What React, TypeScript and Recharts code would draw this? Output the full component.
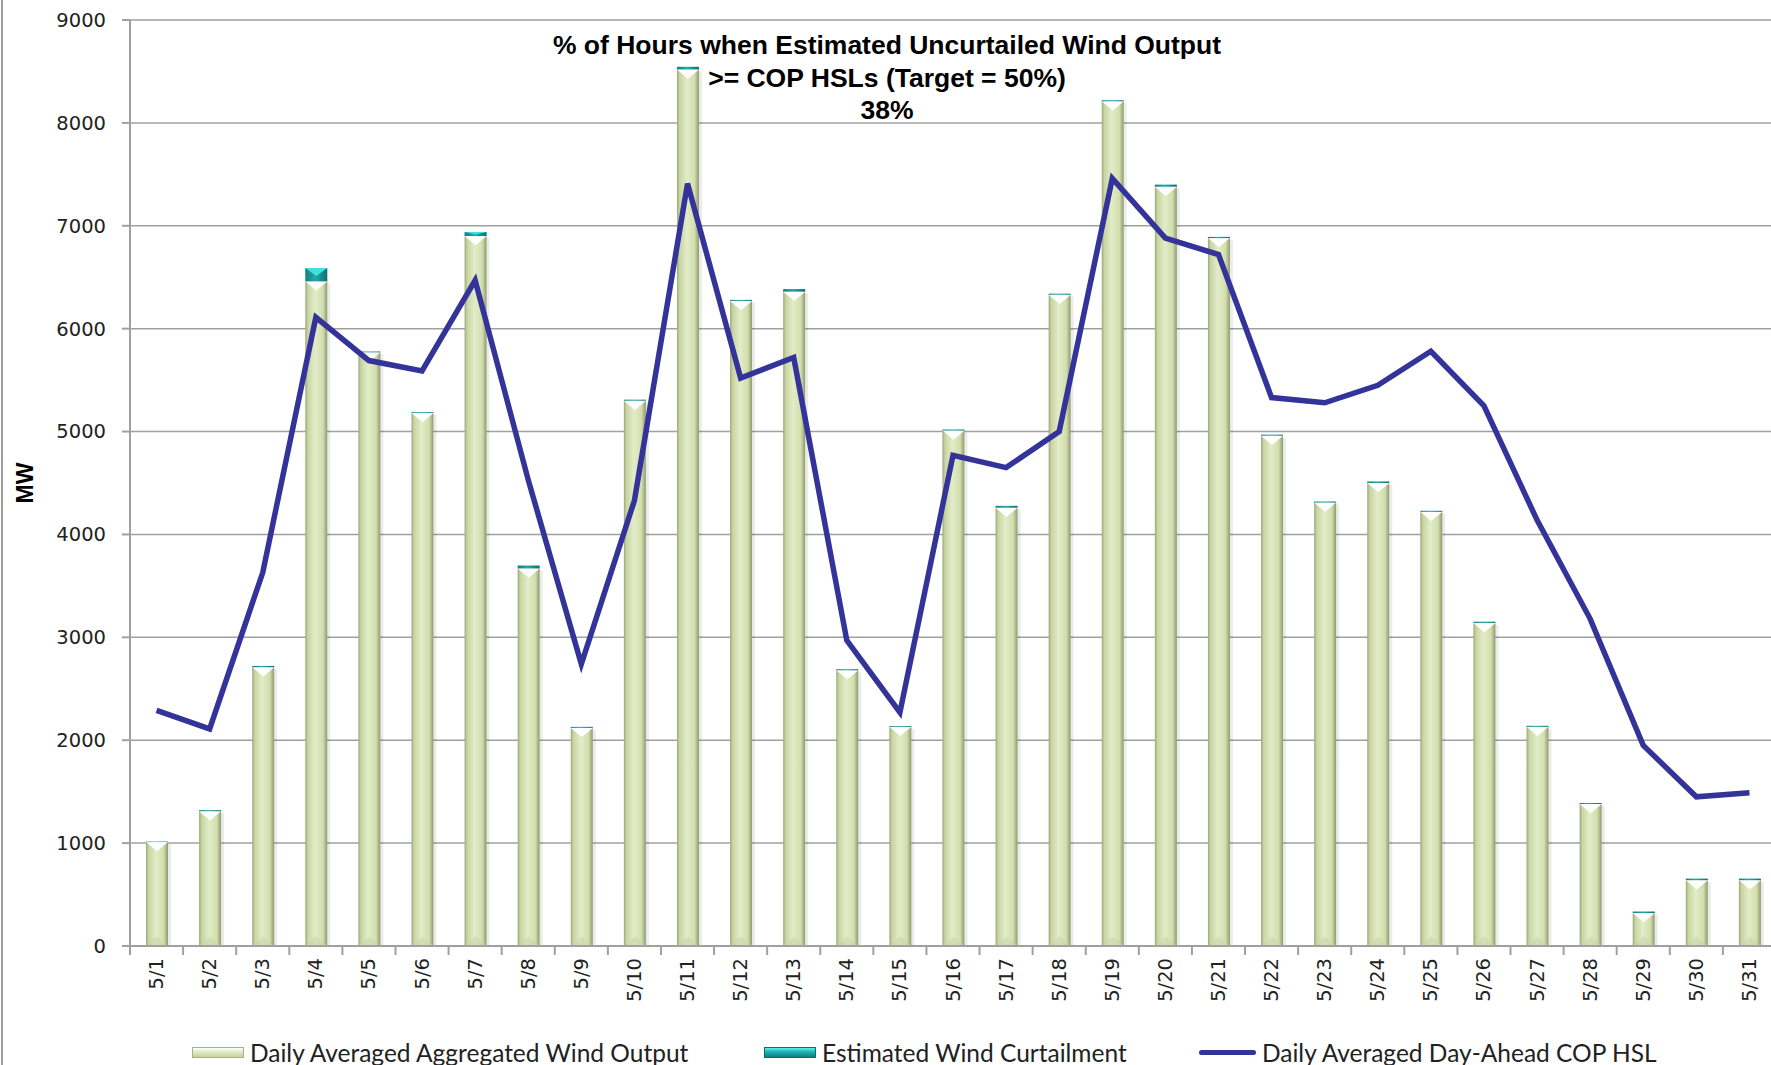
import React from 'react';
import {
  ComposedChart, Bar, Line, XAxis, YAxis, CartesianGrid,
} from 'recharts';

const categories = ['5/1','5/2','5/3','5/4','5/5','5/6','5/7','5/8','5/9','5/10','5/11','5/12','5/13','5/14','5/15','5/16','5/17','5/18','5/19','5/20','5/21','5/22','5/23','5/24','5/25','5/26','5/27','5/28','5/29','5/30','5/31'];
const windOutput = [1010,1310,2710,6460,5770,5180,6900,3670,2120,5300,8520,6270,6360,2680,2130,5010,4260,6330,8210,7380,6880,4960,4310,4500,4220,3140,2130,1380,320,640,640];
const curtailment = [5,10,12,130,8,8,40,28,10,10,25,10,25,10,8,10,18,10,10,20,12,10,10,15,10,12,10,10,15,15,15];
const copHsl = [2290,2110,3630,6110,5690,5590,6470,4530,2740,4330,7410,5520,5720,2970,2270,4770,4650,5000,7460,6880,6720,5330,5280,5450,5780,5250,4140,3180,1950,1450,1490];
const yTicks = [0,1000,2000,3000,4000,5000,6000,7000,8000,9000];

const titleLines = ['% of Hours when Estimated Uncurtailed Wind Output', '>= COP HSLs (Target = 50%)', '38%'];
const legendLabels = ['Daily Averaged Aggregated Wind Output', 'Estimated Wind Curtailment', 'Daily Averaged Day-Ahead COP HSL'];

const data = categories.map((c, i) => ({
  day: c,
  wind: windOutput[i],
  curt: curtailment[i],
  cop: copHsl[i],
}));

const CHART_W = 1790;
const CHART_H = 1065;
const MARGIN = { top: 20, right: 14, bottom: 0, left: 0 };
const Y_W = 130;
const X_H = 119;
const PLOT_W = CHART_W - MARGIN.right - MARGIN.left - Y_W;
const BAND = PLOT_W / categories.length;

const WindShape = (props: any) => {
  const { x, y, width, height } = props;
  if (!height || height <= 0) return null;
  const tri = Math.min(height, width * 0.42);
  return (
    <g>
      <rect x={x + width} y={y + 2} width={3} height={height - 2} fill="#000" opacity={0.08} />
      <rect x={x} y={y} width={width} height={height} fill="url(#gWind)" />
      <polygon points={`${x},${y} ${x + width},${y} ${x + width / 2},${y + tri}`} fill="#ffffff" />
      <polygon points={`${x},${y + height} ${x + width},${y + height} ${x + width / 2},${y + height - tri}`} fill="#c9d5a6" opacity={0.6} />
    </g>
  );
};

const CurtShape = (props: any) => {
  const { x, y, width, height } = props;
  if (!height || height <= 0) return null;
  const tri = Math.min(height * 0.6, width * 0.38);
  return (
    <g>
      <rect x={x} y={y} width={width} height={height} fill="url(#gTeal)" />
      {height > 4 && (
        <polygon points={`${x},${y} ${x + width},${y} ${x + width / 2},${y + tri}`} fill="#3fe0e0" />
      )}
    </g>
  );
};

const XTick = (props: any) => {
  const { x, y, payload } = props;
  const left = x - BAND / 2;
  return (
    <g>
      <line x1={left} y1={y} x2={left} y2={y + 9} stroke="#a0a0a0" strokeWidth={2} />
      <text
        x={x}
        y={y + 12}
        transform={`rotate(-90 ${x} ${y + 12})`}
        textAnchor="end"
        dominantBaseline="central"
        fontFamily="'DejaVu Sans', sans-serif"
        fontSize={19.5}
        fill="#222"
      >
        {payload.value}
      </text>
    </g>
  );
};

const LegendIcon = ({ kind }: { kind: number }) => {
  if (kind === 2) {
    return <div style={{ width: 57, height: 5, background: '#333399', borderRadius: 3 }} />;
  }
  const bg = kind === 0
    ? 'linear-gradient(to bottom, #ffffff 0%, #e4edc9 35%, #c6d3a0 100%)'
    : 'linear-gradient(to bottom, #5ff0f0 0%, #1fb5b5 40%, #0e7f7f 100%)';
  return <div style={{ width: 52, height: 11, background: bg, border: kind === 0 ? '1px solid #a6b382' : '1px solid #0b6f6f', boxSizing: 'border-box' }} />;
};

const legendPos = [192, 764, 1199];

export default function App() {
  return (
    <div style={{ position: 'fixed', left: 0, top: 0, width: 1771, height: 1065, overflow: 'hidden', background: '#fff' }}>
      <div style={{ position: 'absolute', left: 1, top: 0, width: 2, height: 1065, background: '#a0a0a0' }} />
      <ComposedChart width={CHART_W} height={CHART_H} data={data} margin={MARGIN} barSize={22}>
        <defs>
          <linearGradient id="gWind" x1="0" y1="0" x2="1" y2="0">
            <stop offset="0%" stopColor="#9ca877" />
            <stop offset="12%" stopColor="#c8d5a3" />
            <stop offset="45%" stopColor="#e3ecc8" />
            <stop offset="80%" stopColor="#d2deae" />
            <stop offset="100%" stopColor="#8e9a6c" />
          </linearGradient>
          <linearGradient id="gTeal" x1="0" y1="0" x2="1" y2="0">
            <stop offset="0%" stopColor="#0f7f7f" />
            <stop offset="45%" stopColor="#23a9a9" />
            <stop offset="100%" stopColor="#0c7070" />
          </linearGradient>
        </defs>
        <CartesianGrid vertical={false} stroke="#a0a0a0" strokeWidth={1.5} />
        <XAxis
          dataKey="day"
          height={X_H}
          interval={0}
          tickSize={0}
          tickMargin={0}
          tick={<XTick />}
          axisLine={{ stroke: '#a0a0a0', strokeWidth: 2 }}
          tickLine={false}
        />
        <YAxis
          width={Y_W}
          domain={[0, 9000]}
          ticks={yTicks}
          interval={0}
          tickSize={8}
          tickMargin={16}
          axisLine={{ stroke: '#a0a0a0', strokeWidth: 2 }}
          tickLine={{ stroke: '#a0a0a0', strokeWidth: 2 }}
          tick={{ fontFamily: "'DejaVu Sans', sans-serif", fontSize: 19.5, fill: '#222' }}
        />
        <Bar dataKey="wind" stackId="a" shape={<WindShape />} isAnimationActive={false} />
        <Bar dataKey="curt" stackId="a" shape={<CurtShape />} isAnimationActive={false} />
        <Line dataKey="cop" type="linear" stroke="#333399" strokeWidth={5.5} dot={false} isAnimationActive={false} />
      </ComposedChart>

      <div style={{ position: 'absolute', left: 887 - 500, top: 29, width: 1000, textAlign: 'center', fontFamily: "'Liberation Sans', Arial, sans-serif", fontWeight: 'bold', fontSize: 26.5, lineHeight: '32.5px', color: '#000' }}>
        {titleLines.map((t) => <div key={t}>{t}</div>)}
      </div>

      <div style={{ position: 'absolute', left: 25 - 40, top: 483 - 15, width: 80, height: 30, lineHeight: '30px', textAlign: 'center', transform: 'rotate(-90deg)', fontFamily: "'Liberation Sans', Arial, sans-serif", fontWeight: 'bold', fontSize: 23, color: '#000' }}>
        MW
      </div>

      {legendLabels.map((lab, i) => (
        <div key={lab} style={{ position: 'absolute', left: legendPos[i], top: 1052 - 16, height: 32, display: 'flex', alignItems: 'center', gap: 6, fontFamily: "Lato, sans-serif", fontSize: 24.5, color: '#222', whiteSpace: 'nowrap' }}>
          <LegendIcon kind={i} />
          <span>{lab}</span>
        </div>
      ))}
    </div>
  );
}
